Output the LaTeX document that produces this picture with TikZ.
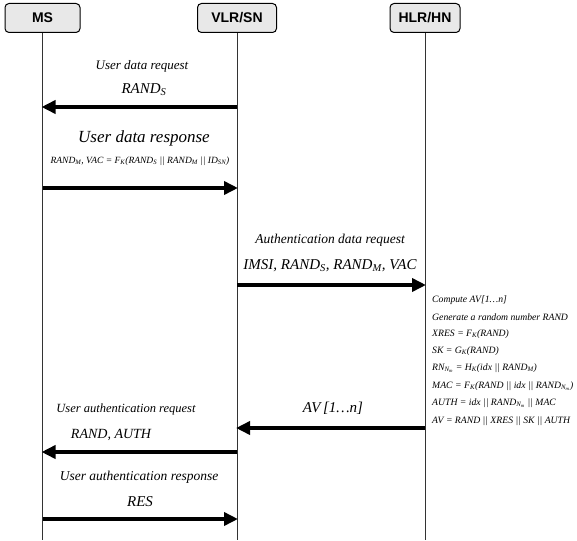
\documentclass[tikz,border=0pt]{standalone}
\usepackage{fontspec}
\setmainfont{Liberation Serif}
\newfontfamily\boxfont{Liberation Sans}
\usetikzlibrary{arrows.meta}
\newcommand{\sbs}[1]{\textsubscript{\itshape #1}}
\newcommand{\fs}[1]{\fontsize{#1}{#1}\selectfont}
\begin{document}
\begin{tikzpicture}[x=1pt,y=-1pt,
  actor/.style={draw, line width=1pt, rounded corners=4pt, fill=gray!18,
    minimum height=29pt, inner sep=2pt, font=\boxfont\bfseries\fs{14}},
  life/.style={line width=0.8pt, black!80},
  msg/.style={line width=4.5pt, -{Triangle[length=14pt,width=13pt]}, shorten >=-1pt},
  lbl/.style={font=\itshape, inner sep=0pt},
  blk/.style={font=\itshape\fs{9.7}, inner sep=0pt, anchor=west}]
\useasboundingbox (0,0) rectangle (577,540);
% actors
\node[actor, minimum width=75pt] (ms) at (42.5,18) {MS};
\node[actor, minimum width=79pt] (vlr) at (237,18) {VLR/SN};
\node[actor, minimum width=70pt] (hlr) at (425,18) {HLR/HN};
% lifeline ends
\coordinate (msend) at (42.5,540);
\coordinate (vlrend) at (237,540);
\coordinate (hlrend) at (425,540);
\draw[life] (ms.south) -- (msend);
\draw[life] (vlr.south) -- (vlrend);
\draw[life] (hlr.south) -- (hlrend);
% message points
\coordinate (m1a) at (237,107); \coordinate (m1b) at (42.5,107);
\coordinate (m2a) at (42.5,188); \coordinate (m2b) at (237,188);
\coordinate (m3a) at (237,285); \coordinate (m3b) at (425,285);
\coordinate (m4a) at (425,428); \coordinate (m4b) at (237,428);
\coordinate (m5a) at (237,452); \coordinate (m5b) at (42.5,452);
\coordinate (m6a) at (42.5,519); \coordinate (m6b) at (237,519);
\draw[msg] (m1a) -- (m1b);
\draw[msg] (m2a) -- (m2b);
\draw[msg] (m3a) -- (m3b);
\draw[msg] (m4a) -- (m4b);
\draw[msg] (m5a) -- (m5b);
\draw[msg] (m6a) -- (m6b);
% labels
\node[lbl, font=\itshape\fs{13}] (t1) at (142,66) {User data request};
\node[lbl, font=\itshape\fs{15}] (t1b) at (144,90) {RAND\sbs{S}};
\node[lbl, font=\itshape\fs{17}] (t2) at (144,138) {User data response};
\node[lbl, font=\itshape\fs{9.5}] (t2b) at (140,161) {RAND\sbs{M}, VAC = F\sbs{K}(RAND\sbs{S} || RAND\sbs{M} || ID\sbs{SN})};
\node[lbl, font=\itshape\fs{13.5}] (t3) at (330,240) {Authentication data request};
\node[lbl, font=\itshape\fs{15}] (t3b) at (330,266) {IMSI, RAND\sbs{S}, RAND\sbs{M}, VAC};
\node[lbl, font=\itshape\fs{15}] (t4) at (333,408) {AV\,[1\ldots n]};
\node[lbl, font=\itshape\fs{12.5}] (t5) at (126,409) {User authentication request};
\node[lbl, font=\itshape\fs{14}] (t5b) at (111,435) {RAND, AUTH};
\node[lbl, font=\itshape\fs{13.5}] (t6) at (139,477) {User authentication response};
\node[lbl, font=\itshape\fs{15}] (t6b) at (140,502) {RES};
% HLR computation block
\node[blk] (c1) at (432,300) {Compute AV[1\ldots n]};
\node[blk] (c2) at (432,317) {Generate a random number RAND};
\node[blk] (c3) at (432,334) {XRES = F\sbs{K}(RAND)};
\node[blk] (c4) at (432,351) {SK = G\sbs{K}(RAND)};
\node[blk] (c5) at (432,368) {RN\sbs{N\textsubscript{m}} = H\sbs{K}(idx || RAND\sbs{M})};
\node[blk] (c6) at (432,386) {MAC = F\sbs{K}(RAND || idx || RAND\sbs{N\textsubscript{m}})};
\node[blk] (c7) at (432,403) {AUTH = idx || RAND\sbs{N\textsubscript{m}} || MAC};
\node[blk] (c8) at (432,421) {AV = RAND || XRES || SK || AUTH};
\end{tikzpicture}
\end{document}
